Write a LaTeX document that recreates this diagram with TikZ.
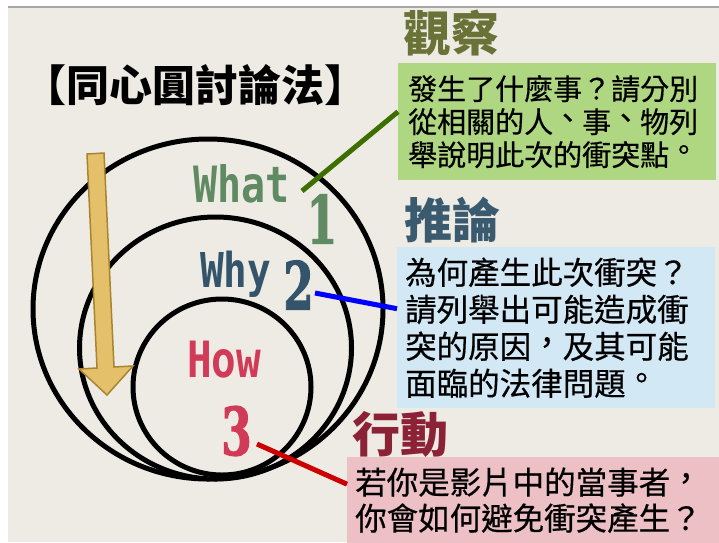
\documentclass[tikz,border=0pt]{standalone}
\usepackage{fontspec}
\newfontfamily\cjk{Noto Sans CJK TC}
\newfontfamily\cjkbox{Noto Sans CJK TC}[FakeBold=0.5]
\newfontfamily\monob{DejaVu Sans Mono}
\newfontfamily\numfont{DejaVu Serif}[UprightFont=* Bold,FakeBold=2]
\newcommand\myComma{\raisebox{0.14em}{，}}
\newcommand\myPeriod{\raisebox{0.18em}{。}}
\newcommand\myDun{\raisebox{0.14em}{、}}
\definecolor{bgc}{HTML}{EDEBE3}
\definecolor{whatc}{HTML}{5F8A62}
\definecolor{whyc}{HTML}{33546A}
\definecolor{howc}{HTML}{D23B57}
\definecolor{obsc}{HTML}{6B7237}
\definecolor{infc}{HTML}{3A5A70}
\definecolor{actc}{HTML}{8C2236}
\definecolor{gbox}{HTML}{AFD680}
\definecolor{bbox}{HTML}{D2E8F5}
\definecolor{pbox}{HTML}{EDC0C6}
\definecolor{gline}{HTML}{3C6E00}
\definecolor{rline}{HTML}{CC0000}
\definecolor{arrfill}{HTML}{E4C06B}
\definecolor{arrdraw}{HTML}{A8842E}
\begin{document}
\begin{tikzpicture}[x=1pt,y=-1pt,
  ring/.style={draw=black,line width=5pt},
  heading/.style={inner sep=0pt,font=\cjk\bfseries\fontsize{48}{50}\selectfont},
  infobox/.style={anchor=north west,inner ysep=0pt,align=left,
     font=\cjkbox\fontsize{29}{33}\selectfont},
  eng/.style={inner sep=0pt,anchor=base west,font=\monob\bfseries\fontsize{50}{50}\selectfont},
  numeral/.style={inner sep=0pt,font=\numfont\fontsize{66}{66}\selectfont},
  conn/.style={line width=5pt}]
\useasboundingbox (0,0) rectangle (719,542);
\fill[white] (0,0) rectangle (719,542);
\fill[bgc] (8,8) rectangle (719,542);
\draw[color=black!35,line width=1.5pt] (8,7) -- (719,7);

% concentric circles
\draw[ring] (208,309) ellipse [x radius=175, y radius=170];
\draw[ring] (215.5,348) ellipse [x radius=136, y radius=131];
\draw[ring] (222,387) ellipse [x radius=89, y radius=88];

% downward arrow
\draw[fill=arrfill,draw=arrdraw,line width=1.5pt,line join=miter]
  (87,154) -- (104,153) -- (114,367) -- (133,366) -- (107,395) -- (79,369) -- (97,368) -- cycle;

% title
\node[inner sep=0pt,font=\cjk\bfseries\fontsize{43}{44}\selectfont] (title) at (195,85) {【同心圓討論法】};

% labels in circles
\node[eng,text=whatc] (what) at (193,202) {\scalebox{0.8}[1]{What}};
\node[eng,text=whyc,font=\monob\bfseries\fontsize{48}{48}\selectfont] (why) at (200,287) {\scalebox{0.82}[1]{Why}};
\node[eng,text=howc] (how) at (187,377) {\scalebox{0.82}[1]{How}};
\node[numeral,text=whatc] (one) at (322,219) {\scalebox{0.66}[1]{1}};
\node[numeral,text=whyc] (two) at (298.5,285) {\scalebox{0.66}[1]{2}};
\node[numeral,text=howc] (three) at (236.5,431) {\scalebox{0.66}[1]{3}};

% headings
\node[heading,text=obsc] (obs) at (451.5,33) {觀察};
\node[heading,text=infc] (inf) at (452.5,220) {推論};
\node[heading,text=actc] (act) at (400,434.5) {行動};

% boxes
\node[infobox,fill=gbox,inner xsep=10pt,text width=298pt,minimum height=117pt] (obsbox) at (398,63)
  {發生了什麼事？請分別\\從相關的人\myDun 事\myDun 物列\\舉說明此次的衝突點\myPeriod};
\node[infobox,fill=bbox,inner xsep=8pt,text width=302pt,minimum height=161pt,
  font=\cjkbox\fontsize{31.5}{37}\selectfont] (infbox) at (397,247)
  {為何產生此次衝突？\\請列舉出可能造成衝\\突的原因\myComma 及其可能\\面臨的法律問題\myPeriod};
\node[infobox,fill=pbox,inner xsep=8pt,text width=356pt,minimum height=86pt,
  font=\cjkbox\fontsize{31.5}{36}\selectfont] (actbox) at (347,457)
  {若你是影片中的當事者\myComma\\你會如何避免衝突產生？};

% connectors
\coordinate (c1) at (302,191);
\coordinate (c2) at (315,293);
\coordinate (c3) at (257,444);
\draw[conn,gline] (c1) -- ([yshift=10pt]obsbox.west);
\draw[conn,blue] (c2) -- ([yshift=19pt]infbox.west);
\draw[conn,rline] (c3) -- ([yshift=16pt]actbox.west);
\end{tikzpicture}
\end{document}
